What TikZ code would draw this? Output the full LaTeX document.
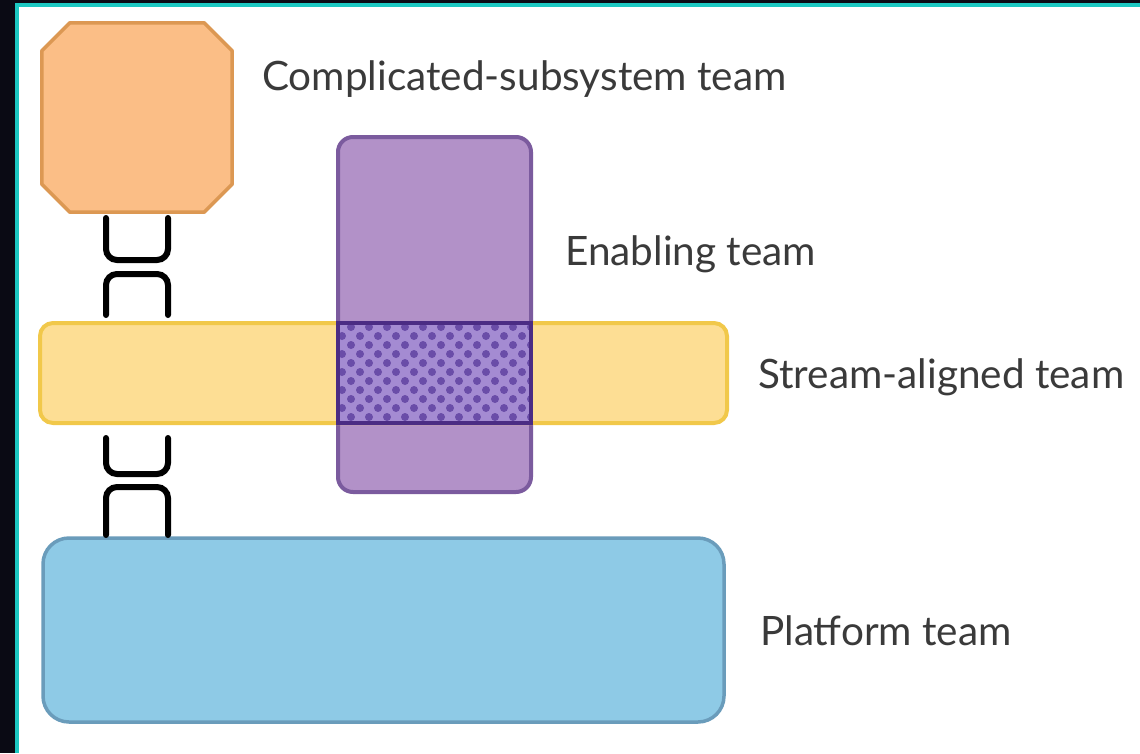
\documentclass[tikz,border=0pt]{standalone}
\usepackage{fontspec}
\setmainfont{Lato}

\definecolor{frameback}{HTML}{0A0A14}
\definecolor{frameline}{HTML}{1CC8C2}
\definecolor{cstfill}{HTML}{FBBE86}
\definecolor{cstline}{HTML}{DC9853}
\definecolor{enafill}{HTML}{B291C8}
\definecolor{enaline}{HTML}{7B5B9E}
\definecolor{strfill}{HTML}{FDDE94}
\definecolor{strline}{HTML}{F1C84A}
\definecolor{ovlfill}{HTML}{A48BD2}
\definecolor{ovlline}{HTML}{4B2C84}
\definecolor{ovldot}{HTML}{6A4DA8}
\definecolor{plafill}{HTML}{8ECAE6}
\definecolor{plaline}{HTML}{6A9CBB}
\definecolor{labeltext}{HTML}{3A3A3A}

\begin{document}
\begin{tikzpicture}[x=1pt,y=-1pt,
  team/.style={draw, line width=4pt, inner sep=0pt, rounded corners=13pt},
  lbl/.style={anchor=base west, inner sep=0pt, text=labeltext,
              font=\fontsize{40.5}{48}\selectfont},
  link/.style={draw=black, line width=6pt, line cap=round, rounded corners=11pt}]

  % frame
  \useasboundingbox (0,0) rectangle (1140,753);
  \fill[frameback] (0,0) rectangle (1140,753);
  \fill[frameline] (15,3) rectangle (1140,753);
  \fill[white] (19,7) rectangle (1140,753);

  % complicated-subsystem team: a square with chamfered corners
  \node[inner sep=0pt, minimum width=190pt, minimum height=189pt] (cst) at (137,117.5) {};
  \filldraw[draw=cstline, fill=cstfill, line width=3.5pt, line join=round]
    ([xshift=28pt]cst.north west) -- ([xshift=-28pt]cst.north east)
    -- ([yshift=-28pt]cst.north east) -- ([yshift=28pt]cst.south east)
    -- ([xshift=-28pt]cst.south east) -- ([xshift=28pt]cst.south west)
    -- ([yshift=28pt]cst.south west) -- ([yshift=-28pt]cst.north west) -- cycle;

  % other team shapes
  \node[team, draw=enaline, fill=enafill, rounded corners=15pt,
        minimum width=193pt, minimum height=355pt] (ena) at (434.5,314.5) {};
  \node[team, draw=strline, fill=strfill,
        minimum width=687pt, minimum height=100pt] (str) at (383.5,373) {};
  \node[team, draw=plaline, fill=plafill, line width=3.5pt, rounded corners=26pt,
        minimum width=681pt, minimum height=184pt] (pla) at (383.5,630) {};

  % overlap of enabling and stream-aligned teams
  \node[fill=ovlfill, inner sep=0pt,
        minimum width=193pt, minimum height=100pt] (ovl) at (434.5,373) {};
  \begin{scope}
    \clip (ovl.south west) rectangle (ovl.north east);
    \foreach \r in {0,...,11} {
      \pgfmathsetmacro{\yy}{327+9*\r}
      \pgfmathsetmacro{\xo}{mod(\r,2)*9}
      \foreach \c in {0,...,11} {
        \fill[ovldot] ({333+\xo+18*\c},\yy) circle (4pt);
      }
    }
  \end{scope}
  \draw[ovlline, line width=4.5pt] (ovl.south west) rectangle (ovl.north east);

  % interaction symbols
  \draw[link] (106,218) -- (106,260) -- (168,260) -- (168,218);
  \draw[link] (106,315) -- (106,274) -- (168,274) -- (168,315);
  \draw[link] (106,438) -- (106,474) -- (168,474) -- (168,438);
  \draw[link] (106,535) -- (106,487) -- (168,487) -- (168,535);

  % labels
  \node[lbl] (lcst) at (262,90) {Complicated-subsystem team};
  \node[lbl] (lena) at (565,265) {Enabling team};
  \node[lbl] (lstr) at (758,388) {Stream-aligned team};
  \node[lbl] (lpla) at (760,645) {Platform team};
\end{tikzpicture}
\end{document}
